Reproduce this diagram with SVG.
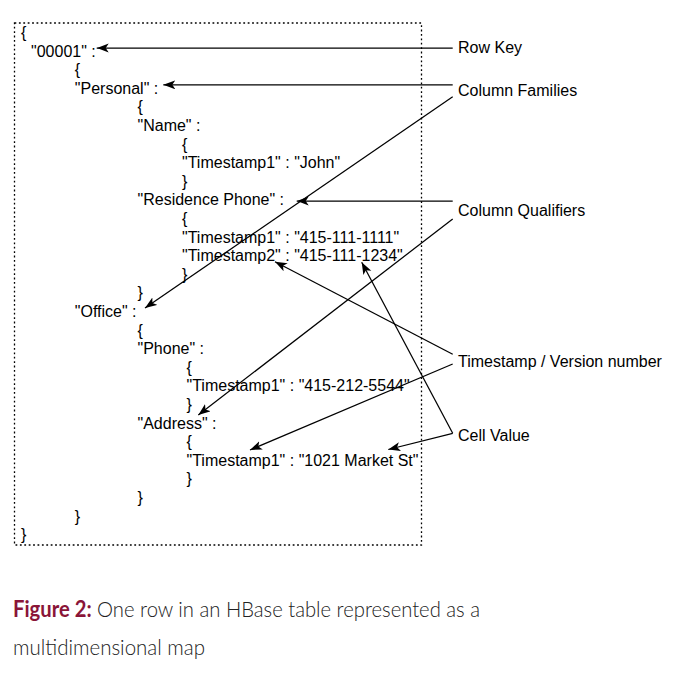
<svg xmlns="http://www.w3.org/2000/svg" width="675" height="678" viewBox="0 0 675 678">
<style>
.t{font-family:"Liberation Sans",Arial,sans-serif;font-size:16px;fill:#000}
.c{stroke:#000;stroke-width:1.25;fill:none}
.cap{font-family:Lato,"Open Sans",sans-serif;font-size:22px;fill:#222;font-weight:300}
.fig{font-weight:700;fill:#8a1538}
</style>
<defs>
<marker id="ah" markerUnits="userSpaceOnUse" markerWidth="12" markerHeight="10" viewBox="0 0 12 10" refX="12" refY="4.5" orient="auto">
<path d="M0,0 L12,4.5 L0,9 L3,4.5 z" fill="#000"/>
</marker>
</defs>
<rect width="675" height="678" fill="#fff"/>
<g id="box">
<rect x="14.5" y="23" width="407" height="522" fill="none" stroke="#000" stroke-width="1.3" stroke-dasharray="1.8 2.6"/>
</g>
<g id="json">
<text class="t" x="21" y="38">{</text>
<text class="t" x="31" y="56.6">"00001" :</text>
<text class="t" x="74.8" y="75.2">{</text>
<text class="t" x="74.8" y="93.8">"Personal" :</text>
<text class="t" x="137.5" y="112.4">{</text>
<text class="t" x="137.5" y="131">"Name" :</text>
<text class="t" x="182" y="149.6">{</text>
<text class="t" x="182" y="168.2">"Timestamp1" : "John"</text>
<text class="t" x="182" y="186.8">}</text>
<text class="t" x="137.5" y="205.4">"Residence Phone" :</text>
<text class="t" x="182" y="224">{</text>
<text class="t" x="182" y="242.6">"Timestamp1" : "415-111-1111"</text>
<text class="t" x="182" y="261.2">"Timestamp2" : "415-111-1234"</text>
<text class="t" x="182" y="279.8">}</text>
<text class="t" x="137.5" y="298.4">}</text>
<text class="t" x="74.8" y="317">"Office" :</text>
<text class="t" x="137.5" y="335.6">{</text>
<text class="t" x="137.5" y="354.2">"Phone" :</text>
<text class="t" x="186.5" y="372.8">{</text>
<text class="t" x="186.5" y="391.4">"Timestamp1" : "415-212-5544"</text>
<text class="t" x="186.5" y="410">}</text>
<text class="t" x="137.5" y="428.6">"Address" :</text>
<text class="t" x="186.5" y="447.2">{</text>
<text class="t" x="186.5" y="465.8">"Timestamp1" : "1021 Market St"</text>
<text class="t" x="186.5" y="484.4">}</text>
<text class="t" x="137.5" y="503">}</text>
<text class="t" x="74.8" y="521.6">}</text>
<text class="t" x="21" y="540.2">}</text>
</g>
<g id="label-rowkey"><text class="t" x="458" y="53">Row Key</text></g>
<g id="label-families"><text class="t" x="458" y="96">Column Families</text></g>
<g id="label-qualifiers"><text class="t" x="458" y="216">Column Qualifiers</text></g>
<g id="label-timestamp"><text class="t" x="458" y="367">Timestamp / Version number</text></g>
<g id="label-cellvalue"><text class="t" x="458" y="441">Cell Value</text></g>
<g id="connectors">
<path class="c" d="M452.7,48 L96.7,48" marker-end="url(#ah)"/>
<path class="c" d="M452.7,84.8 L163.3,84.8" marker-end="url(#ah)"/>
<path class="c" d="M452.7,96.7 L145,308" marker-end="url(#ah)"/>
<path class="c" d="M452.7,201 L296.7,201" marker-end="url(#ah)"/>
<path class="c" d="M452.7,219 L198.3,415" marker-end="url(#ah)"/>
<path class="c" d="M452.7,354.3 L275,261.7" marker-end="url(#ah)"/>
<path class="c" d="M452.7,364 L250,450" marker-end="url(#ah)"/>
<path class="c" d="M452.7,433.3 L361.7,262.3" marker-end="url(#ah)"/>
<path class="c" d="M452.7,433.3 L388.3,449.5" marker-end="url(#ah)"/>
</g>
<g id="caption">
<text class="cap" x="13" y="616.7" textLength="467" lengthAdjust="spacingAndGlyphs"><tspan class="fig">Figure 2:</tspan> One row in an HBase table represented as a</text>
<text class="cap" x="13" y="655" textLength="192" lengthAdjust="spacingAndGlyphs">multidimensional map</text>
</g>
</svg>
